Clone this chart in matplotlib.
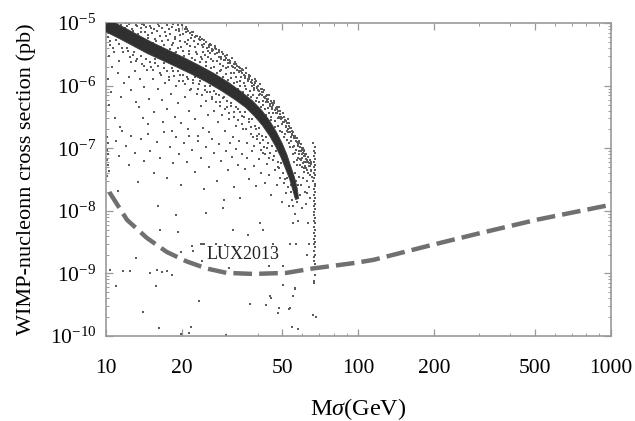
import math
import matplotlib
matplotlib.use("Agg")
import matplotlib.pyplot as plt
from matplotlib.ticker import FixedLocator, NullFormatter, LogLocator, FuncFormatter

plt.rcParams['font.family'] = ['Liberation Serif', 'DejaVu Serif']
plt.rcParams['mathtext.fontset'] = 'custom'
plt.rcParams['mathtext.rm'] = 'Liberation Serif'
plt.rcParams['mathtext.it'] = 'Liberation Serif:italic'

# LUX2013 exclusion limit (GeV, pb)
lux_m = [10.3, 12.1, 14.5, 17.4, 20.9, 25.0, 30.0, 38.3, 51.9, 66.0, 77.0, 98.0, 115.0, 192.0, 303.0, 508.0, 1000.0]
lux_s = [2.0e-8, 7.2e-9, 3.7e-9, 2.2e-9, 1.55e-9, 1.2e-9, 1.02e-9, 0.98e-9, 1.02e-9, 1.2e-9, 1.3e-9, 1.48e-9, 1.65e-9, 2.8e-9, 4.4e-9, 7.2e-9, 1.25e-8]

# dense band of model points: upper and lower edges
band_up_m = [10.25, 11.64, 13.36, 15.32, 17.59, 20.18, 23.14, 26.57, 30.45, 34.3, 37.96, 41.3, 44.4, 47.3, 49.9, 52.1, 53.9, 55.8, 57.2, 57.9]
band_up_s = [1.13e-5, 8.76e-6, 6.5e-6, 4.85e-6, 3.73e-6, 2.86e-6, 2.16e-6, 1.6e-6, 1.14e-6, 8.05e-7, 5.78e-7, 4.07e-7, 2.78e-7, 1.82e-7, 1.19e-7, 7.85e-8, 5.18e-8, 3.43e-8, 2.28e-8, 1.57e-8]
band_lo_m = [9.76, 11.09, 12.7, 14.56, 16.68, 19.1, 21.9, 25.1, 28.8, 32.4, 35.8, 38.7, 41.7, 44.5, 47.05, 49.3, 51.3, 53.3, 54.9, 56.3]
band_lo_s = [7.62e-6, 5.89e-6, 4.41e-6, 3.28e-6, 2.55e-6, 1.98e-6, 1.52e-6, 1.14e-6, 8.2e-7, 6.0e-7, 4.47e-7, 3.27e-7, 2.3e-7, 1.57e-7, 1.06e-7, 7.18e-8, 4.84e-8, 3.26e-8, 2.18e-8, 1.52e-8]

# scattered points above the band
above_m = [10.8, 11.5, 11.9, 12.3, 12.8, 13.1, 13.4, 13.8, 13.9, 14.3, 14.6, 14.9, 15.2, 15.5, 15.8, 16.0, 15.3, 14.4,
           16.3, 16.6, 16.9, 17.1, 17.4, 17.6, 17.9, 18.0, 16.5, 17.2, 18.3, 18.5, 18.8, 19.0, 19.2, 19.5, 19.7, 19.9,
           18.6, 19.4, 20.2, 20.4, 20.7, 20.9, 21.2, 21.4, 21.7, 22.0, 22.2, 22.5, 22.8, 23.0, 21.1, 22.6,
           23.3, 23.6, 23.9, 24.2, 24.5, 24.8, 25.1, 25.4, 25.7, 26.0, 26.3, 26.6, 26.9, 24.0, 25.9,
           27.3, 27.6, 28.0, 28.3, 28.7, 29.0, 29.4, 29.8, 30.1, 30.5, 30.9, 31.2, 31.6, 32.0, 28.5, 30.3,
           32.4, 32.8, 33.2, 33.6, 34.0, 34.4, 34.8, 35.2, 35.6, 36.0, 36.4, 36.8, 33.0, 35.9,
           37.2, 37.6, 38.0, 38.5, 38.9, 39.3, 39.8, 40.2, 40.7, 41.1, 41.6, 42.0, 39.0,
           42.4, 42.9, 43.4, 43.9, 44.4, 44.9, 45.4, 45.9, 46.4, 46.9, 47.4, 47.9, 44.0,
           48.4, 48.9, 49.4, 49.9, 50.4, 50.9, 51.4, 51.9, 52.4, 52.9, 53.4, 53.9, 54.4, 54.9,
           55.4, 55.9, 56.4, 56.9, 57.4, 57.9, 58.4, 58.9, 59.4, 59.9, 60.4, 60.9, 61.4, 61.9,
           12.0, 14.0, 16.5, 18.5,
           10.6, 11.1, 12.1, 12.7, 13.3, 13.7, 14.1, 14.7, 15.1, 15.6, 15.9, 16.2, 16.7, 17.3, 17.8, 18.2, 18.7, 18.9,
           19.3, 19.6, 20.1, 20.5, 20.8, 21.3, 21.6, 21.9, 22.3, 22.7, 23.1, 23.5, 23.8, 24.3, 24.6, 25.0, 25.3, 25.6,
           26.1, 26.4, 26.8, 27.1, 27.5, 27.9, 28.2, 28.6, 29.1, 29.5, 29.9, 30.4, 30.8, 31.3, 31.8, 32.2, 32.6, 33.1,
           33.5, 33.9, 34.3, 34.7, 35.1, 35.5, 36.0, 36.5, 36.9, 37.3, 37.8, 38.3, 38.7, 39.1, 39.6, 40.0, 40.5, 40.9,
           41.4, 41.8, 42.2, 42.7, 43.1, 43.6, 44.1, 44.6, 45.1, 45.6, 46.1, 46.6, 47.1, 47.6, 48.1, 48.6, 49.1, 49.6,
           50.1, 50.6, 51.1, 51.6, 52.1, 52.6, 53.1, 53.6, 54.1, 54.6, 55.1, 55.6, 56.1, 56.6, 57.1, 57.6, 58.1, 58.6,
           59.1, 59.6, 60.1, 60.6, 61.1, 61.6, 62.1, 62.6, 63.1, 63.6, 64.1, 64.6, 65.1, 65.6]
above_s = [9.6e-6, 9.2e-6, 8.3e-6, 9.7e-6, 7.6e-6, 9.4e-6, 6.7e-6, 8.5e-6, 9.8e-6, 7.2e-6, 5.8e-6, 9.1e-6, 6.9e-6, 8.0e-6, 5.1e-6, 9.6e-6, 4.9e-6, 8.7e-6,
           6.2e-6, 8.4e-6, 4.5e-6, 7.3e-6, 9.3e-6, 5.4e-6, 3.9e-6, 6.8e-6, 4.1e-6, 9.9e-6, 8.6e-6, 4.8e-6, 6.1e-6, 3.5e-6, 9.5e-6, 7.4e-6, 5.2e-6, 4.2e-6,
           3.3e-6, 8.0e-6, 6.7e-6, 3.0e-6, 8.8e-6, 4.6e-6, 7.6e-6, 3.6e-6, 5.8e-6, 2.8e-6, 7.1e-6, 4.1e-6, 6.2e-6, 3.2e-6, 5.3e-6, 2.6e-6,
           5.6e-6, 2.4e-6, 4.5e-6, 3.4e-6, 5.3e-6, 2.1e-6, 4.0e-6, 2.9e-6, 4.7e-6, 1.9e-6, 3.6e-6, 2.5e-6, 4.3e-6, 2.7e-6, 3.3e-6,
           3.8e-6, 1.6e-6, 2.9e-6, 2.2e-6, 3.5e-6, 1.4e-6, 2.6e-6, 1.9e-6, 3.1e-6, 1.25e-6, 2.3e-6, 1.6e-6, 2.8e-6, 1.1e-6, 1.8e-6, 2.6e-6,
           2.4e-6, 1.4e-6, 9.0e-7, 2.0e-6, 1.2e-6, 1.7e-6, 8.0e-7, 1.5e-6, 1.0e-6, 1.9e-6, 7.2e-7, 1.3e-6, 1.8e-6, 1.6e-6,
           1.45e-6, 6.5e-7, 1.1e-6, 8.5e-7, 1.3e-6, 5.6e-7, 9.6e-7, 7.0e-7, 1.05e-6, 4.6e-7, 8.0e-7, 5.8e-7, 1.15e-6,
           8.5e-7, 3.4e-7, 6.2e-7, 4.4e-7, 7.0e-7, 2.8e-7, 5.2e-7, 3.6e-7, 5.7e-7, 2.2e-7, 4.2e-7, 3.0e-7, 5.5e-7,
           4.5e-7, 1.9e-7, 3.2e-7, 2.4e-7, 3.6e-7, 1.5e-7, 2.7e-7, 1.9e-7, 2.9e-7, 1.2e-7, 2.1e-7, 1.5e-7, 1.9e-7, 1.05e-7,
           1.6e-7, 8.5e-8, 1.3e-7, 6.5e-8, 1.1e-7, 8.0e-8, 1.2e-7, 5.5e-8, 9.0e-8, 7.0e-8, 1.0e-7, 4.8e-8, 8.0e-8, 6.0e-8,
           9.9e-6, 9.9e-6, 9.9e-6, 9.8e-6,
           9.1e-6, 9.8e-6, 8.9e-6, 8.1e-6, 8.9e-6, 7.1e-6, 9.3e-6, 6.4e-6, 8.4e-6, 5.6e-6, 7.4e-6, 9.1e-6, 5.1e-6, 6.3e-6, 8.1e-6, 4.4e-6, 5.5e-6, 7.8e-6,
           4.0e-6, 6.4e-6, 3.6e-6, 5.0e-6, 7.3e-6, 3.2e-6, 4.3e-6, 6.5e-6, 5.2e-6, 3.5e-6, 4.6e-6, 6.0e-6, 2.9e-6, 4.1e-6, 3.1e-6, 2.4e-6, 3.6e-6, 4.4e-6,
           2.7e-6, 3.9e-6, 2.0e-6, 3.2e-6, 2.5e-6, 3.7e-6, 1.75e-6, 2.7e-6, 2.1e-6, 3.0e-6, 1.55e-6, 2.0e-6, 2.6e-6, 1.35e-6, 2.0e-6, 1.6e-6, 2.2e-6, 1.15e-6,
           1.65e-6, 1.0e-6, 1.4e-6, 1.85e-6, 1.1e-6, 1.35e-6, 9.0e-7, 1.2e-6, 1.5e-6, 8.2e-7, 1.0e-6, 7.0e-7, 9.3e-7, 1.2e-6, 6.4e-7, 8.4e-7, 5.4e-7, 7.4e-7,
           9.0e-7, 5.0e-7, 6.6e-7, 4.2e-7, 5.4e-7, 7.2e-7, 3.6e-7, 4.7e-7, 3.2e-7, 4.2e-7, 5.3e-7, 2.7e-7, 3.6e-7, 4.6e-7, 2.3e-7, 3.0e-7, 3.9e-7, 1.8e-7,
           2.6e-7, 3.2e-7, 1.7e-7, 2.2e-7, 1.35e-7, 1.8e-7, 2.5e-7, 1.05e-7, 1.3e-7, 1.7e-7, 8.0e-8, 1.1e-7, 1.45e-7, 9.5e-8, 1.25e-7, 7.0e-8, 9.0e-8, 1.05e-7,
           6.5e-8, 8.2e-8, 5.8e-8, 7.5e-8, 9.5e-8, 5.2e-8, 6.8e-8, 4.5e-8, 6.0e-8, 5.2e-8, 3.8e-8, 5.6e-8, 4.3e-8, 3.5e-8]

# points along the outer edge of the populated region
edge_m = [20.0, 21.0, 22.0, 23.0, 24.0, 25.0, 26.0, 27.0, 28.0, 29.0, 30.0, 31.0, 32.0, 33.0, 34.0, 35.0, 36.0, 37.0, 38.0,
          39.0, 40.0, 41.0, 42.0, 43.0, 44.0, 45.0, 46.0, 47.0, 48.0, 49.0, 50.0, 51.0, 52.0, 53.0, 54.0, 55.0, 56.0,
          57.0, 58.0, 59.0, 60.0, 61.0, 62.0, 63.0, 64.0, 65.0,
          20.5, 21.5, 22.5, 23.5, 24.5, 25.5, 26.5, 27.5, 28.5, 29.5, 30.5, 31.5, 32.5, 33.5, 34.5, 35.5, 36.5, 37.5,
          38.5, 39.5, 40.5, 41.5, 42.5, 43.5, 44.5, 45.5, 46.5, 47.5, 48.5, 49.5, 50.5, 51.5, 52.5, 53.5, 54.5, 55.5,
          56.5, 57.5, 58.5, 59.5, 60.5, 61.5, 62.5, 63.5, 64.5]
edge_s = [9.4e-6, 8.2e-6, 7.2e-6, 6.2e-6, 5.6e-6, 5.0e-6, 4.5e-6, 4.0e-6, 3.5e-6, 3.2e-6, 2.8e-6, 2.5e-6, 2.25e-6, 2.1e-6,
          1.95e-6, 1.8e-6, 1.6e-6, 1.4e-6, 1.25e-6, 1.1e-6, 9.8e-7, 8.8e-7, 7.8e-7, 6.9e-7, 6.2e-7, 5.6e-7, 5.0e-7, 4.4e-7,
          3.9e-7, 3.5e-7, 3.1e-7, 2.8e-7, 2.5e-7, 2.3e-7, 2.1e-7, 1.8e-7, 1.6e-7, 1.45e-7, 1.3e-7, 1.15e-7, 1.0e-7, 9.0e-8,
          8.0e-8, 7.2e-8, 6.6e-8, 6.0e-8,
          8.0e-6, 7.0e-6, 6.0e-6, 5.3e-6, 4.6e-6, 4.1e-6, 3.7e-6, 3.3e-6, 2.9e-6, 2.6e-6, 2.35e-6, 2.1e-6, 1.9e-6, 1.75e-6,
          1.6e-6, 1.45e-6, 1.3e-6, 1.15e-6, 1.02e-6, 9.1e-7, 8.1e-7, 7.2e-7, 6.4e-7, 5.7e-7, 5.1e-7, 4.6e-7, 4.1e-7, 3.6e-7,
          3.2e-7, 2.9e-7, 2.6e-7, 2.3e-7, 2.05e-7, 1.85e-7, 1.65e-7, 1.45e-7, 1.3e-7, 1.17e-7, 1.05e-7, 9.3e-8, 8.3e-8,
          7.4e-8, 6.5e-8, 5.8e-8, 5.2e-8]

# scattered points below the band
below_m = [10.2, 10.4, 10.3, 10.6, 10.2, 10.5, 10.3, 10.8, 11.0, 11.3, 11.6, 11.2, 11.8, 11.5, 10.9, 11.4,
           12.2, 12.5, 12.8, 13.0, 13.3, 13.6, 13.9, 14.2, 14.5, 14.8, 12.6, 13.5, 14.0, 12.3, 13.1, 14.6,
           15.1, 15.4, 15.7, 16.0, 16.3, 16.6, 16.9, 17.2, 17.5, 17.8, 18.1, 18.4, 18.7, 19.0, 19.3, 19.6, 19.9, 15.5, 16.8, 18.2,
           20.2, 20.6, 21.0, 21.4, 21.8, 22.2, 22.6, 23.0, 23.4, 23.8, 24.2, 24.6, 25.0, 25.4, 25.8, 21.2, 23.2, 25.6,
           26.2, 26.7, 27.2, 27.7, 28.2, 28.7, 29.2, 29.7, 30.2, 30.7, 31.2, 31.7, 32.2, 32.7, 33.2, 33.7,
           34.5, 35.0, 35.6, 36.2, 36.8, 37.4, 38.0, 38.6, 39.2, 39.8, 40.5, 41.2, 42.0, 42.8, 43.6, 44.4,
           10.1, 10.15, 10.1, 10.2, 10.1, 10.15, 10.3, 10.1,
           11.0, 11.3, 11.6, 12.0, 12.3, 12.6, 13.0, 13.4, 13.8, 14.2, 14.6, 15.0, 15.5, 15.9, 16.4, 16.9, 17.4, 17.9,
           18.4, 18.9, 19.4, 19.9, 20.4, 20.9, 21.4, 22.0, 22.6, 23.2, 23.8, 24.4, 25.0, 25.6, 26.2, 26.8, 27.4, 28.0,
           28.6, 29.2, 29.8, 30.4, 31.0, 31.6, 32.2, 32.8, 33.4, 34.0,
           34.6, 35.4, 36.2, 37.0, 37.8, 38.6, 39.4, 40.2, 41.0, 41.8, 42.6, 43.4, 44.2, 45.0, 45.8, 46.6, 47.4, 48.2,
           49.0, 49.8, 50.6, 51.4, 52.2, 53.0, 53.8, 54.6,
           55.2, 55.8, 56.4, 57.0, 57.6, 58.2, 58.8, 59.4, 60.0, 60.6, 61.2, 61.8, 62.4, 63.0, 63.6, 64.2, 64.8,
           56.0, 57.2, 58.5, 59.8, 61.0, 62.0, 63.2, 55.5, 56.8, 60.2, 62.8, 57.8, 54.8,
           10.4, 10.7, 11.3, 11.7, 12.1, 12.4, 12.9, 13.2, 13.7, 14.1, 14.4, 14.9, 15.3, 15.6, 16.1, 16.5, 16.9, 17.4,
           17.7, 18.2, 18.6, 19.2, 19.5, 20.1, 20.6, 21.1, 21.6, 22.1, 22.6, 23.1, 23.6, 24.1, 24.6, 25.2, 25.7, 26.2,
           26.8, 27.3, 27.9, 28.4, 29.0, 29.6, 30.2, 30.8, 31.4, 32.0, 32.7, 33.3, 34.0, 34.7, 35.3, 36.0, 36.7, 37.4,
           38.1, 38.8, 39.5, 40.2, 40.9, 41.6, 42.3, 43.0, 43.7, 44.8, 45.5, 46.2, 47.0, 47.8, 48.5, 49.5, 50.3, 51.0,
           52.0, 52.8, 53.5, 54.2]
below_s = [6.0e-6, 4.5e-6, 3.0e-6, 2.0e-6, 1.3e-6, 8.0e-7, 5.0e-7, 3.4e-6, 5.4e-6, 2.5e-6, 4.0e-6, 1.6e-6, 1.1e-6, 6.5e-7, 3.0e-7, 2.2e-7,
           3.6e-6, 2.4e-6, 3.1e-6, 1.7e-6, 2.7e-6, 1.3e-6, 2.2e-6, 9.5e-7, 1.8e-6, 6.2e-7, 8.5e-7, 4.5e-7, 3.0e-7, 1.4e-6, 5.5e-7, 2.4e-7,
           2.0e-6, 1.3e-6, 2.3e-6, 8.8e-7, 1.6e-6, 6.0e-7, 1.9e-6, 1.1e-6, 4.2e-7, 1.4e-6, 7.5e-7, 1.7e-6, 3.2e-7, 1.0e-6, 5.2e-7, 1.5e-6, 2.5e-7, 3.8e-7, 2.6e-7, 1.9e-7,
           1.2e-6, 6.5e-7, 1.4e-6, 4.0e-7, 9.0e-7, 1.25e-6, 2.9e-7, 7.5e-7, 1.05e-6, 4.8e-7, 2.1e-7, 8.5e-7, 5.8e-7, 3.4e-7, 7.8e-7, 2.0e-7, 1.6e-7, 1.8e-7,
           6.2e-7, 4.0e-7, 7.5e-7, 2.6e-7, 5.5e-7, 3.4e-7, 6.5e-7, 1.9e-7, 4.6e-7, 2.9e-7, 5.2e-7, 1.5e-7, 3.8e-7, 2.3e-7, 4.2e-7, 1.3e-7,
           3.3e-7, 2.0e-7, 3.8e-7, 1.2e-7, 2.6e-7, 1.7e-7, 2.9e-7, 1.1e-7, 2.0e-7, 1.4e-7, 1.7e-7, 9.5e-8, 1.35e-7, 8.0e-8, 1.0e-7, 7.0e-8,
           1.5e-7, 1.2e-7, 9.5e-8, 8.0e-8, 6.5e-8, 5.5e-8, 4.3e-8, 3.6e-8,
           1.3e-7, 7.5e-8, 1.9e-7, 1.1e-7, 5.5e-8, 1.6e-7, 8.5e-8, 2.9e-8, 1.4e-7, 6.3e-8, 1.7e-7, 9.0e-8, 4.0e-8, 1.25e-7, 7.0e-8, 1.8e-7, 3.3e-8, 1.05e-7,
           5.8e-8, 1.5e-7, 8.0e-8, 2.6e-8, 1.2e-7, 6.0e-8, 1.6e-7, 9.5e-8, 4.2e-8, 1.3e-7, 7.0e-8, 2.2e-8, 1.05e-7, 5.0e-8, 1.4e-7, 8.5e-8, 3.0e-8, 1.15e-7,
           6.2e-8, 1.5e-8, 9.0e-8, 4.5e-8, 1.2e-7, 7.2e-8, 2.4e-8, 9.8e-8, 5.5e-8, 1.6e-8,
           8.0e-8, 4.6e-8, 7.0e-8, 3.2e-8, 9.0e-8, 5.2e-8, 2.5e-8, 6.8e-8, 4.0e-8, 8.5e-8, 2.8e-8, 5.6e-8, 3.8e-8, 1.8e-8, 6.5e-8, 4.5e-8, 2.6e-8, 5.0e-8,
           3.4e-8, 1.4e-8, 2.8e-8, 1.9e-8, 3.3e-8, 1.2e-8, 2.0e-8, 1.5e-8,
           1.2e-8, 9.0e-9, 2.2e-8, 1.4e-8, 7.0e-9, 3.5e-8, 1.8e-8, 2.6e-8, 1.1e-8, 4.2e-8, 2.0e-8, 1.3e-8, 3.0e-8, 6.5e-9, 2.4e-8, 1.6e-8, 4.5e-8,
           4.0e-8, 5.5e-8, 6.8e-8, 5.0e-8, 6.0e-8, 4.8e-8, 4.0e-8, 6.0e-8, 3.0e-8, 3.4e-8, 1.9e-8, 2.6e-8, 3.6e-8,
           5.2e-6, 4.0e-6, 4.6e-6, 3.4e-6, 4.0e-6, 2.9e-6, 3.5e-6, 2.5e-6, 3.0e-6, 2.1e-6, 2.7e-6, 2.4e-6, 1.8e-6, 2.7e-6, 2.1e-6, 1.5e-6, 2.3e-6, 1.75e-6,
           1.25e-6, 1.95e-6, 1.45e-6, 1.7e-6, 1.2e-6, 1.5e-6, 1.05e-6, 1.3e-6, 8.5e-7, 1.1e-6, 1.4e-6, 9.0e-7, 1.2e-6, 7.0e-7, 1.0e-6, 8.0e-7, 1.0e-6, 6.5e-7,
           8.2e-7, 5.5e-7, 7.2e-7, 4.7e-7, 6.4e-7, 4.2e-7, 5.6e-7, 3.6e-7, 4.8e-7, 3.2e-7, 4.6e-7, 2.8e-7, 3.8e-7, 2.4e-7, 3.2e-7, 2.0e-7, 2.9e-7, 2.2e-7,
           1.5e-7, 2.3e-7, 1.6e-7, 2.1e-7, 1.2e-7, 1.6e-7, 1.05e-7, 1.5e-7, 1.2e-7, 8.5e-8, 1.1e-7, 7.5e-8, 9.0e-8, 6.0e-8, 4.8e-8, 5.8e-8, 4.0e-8, 3.2e-8,
           4.5e-8, 2.4e-8, 3.6e-8, 2.6e-8]

# thin vertical strip of points near 67 GeV
strip_m = [66.3, 67.0, 66.7, 67.4, 66.5, 67.2, 66.8, 67.5, 66.4, 67.1, 66.6, 67.3, 66.9, 66.3, 67.0, 67.4,
           66.5, 67.2, 66.7, 67.5, 66.4, 67.1, 66.8, 67.3, 66.6, 66.9, 67.2, 66.4, 67.0, 66.7, 67.4, 66.5,
           67.1, 66.8, 67.3, 66.6, 67.0, 66.9, 67.2, 66.5, 66.8, 67.1, 66.6, 67.0, 66.4, 66.9, 66.1, 67.6]
strip_s = [1.2e-7, 1.05e-7, 9.2e-8, 8.3e-8, 7.5e-8, 6.8e-8, 6.1e-8, 5.5e-8, 5.0e-8, 4.5e-8, 4.1e-8, 3.7e-8, 3.3e-8, 3.0e-8, 2.7e-8, 2.45e-8,
           2.2e-8, 2.0e-8, 1.8e-8, 1.6e-8, 1.45e-8, 1.3e-8, 1.18e-8, 1.06e-8, 9.5e-9, 8.6e-9, 7.7e-9, 7.0e-9, 6.3e-9, 5.6e-9, 5.0e-9, 4.5e-9,
           4.0e-9, 3.6e-9, 3.2e-9, 2.9e-9, 2.6e-9, 2.3e-9, 2.0e-9, 1.8e-9, 1.6e-9, 1.4e-9, 1.2e-9, 9.5e-10, 7.5e-10, 7.0e-10, 2.2e-10, 2.0e-10]

# sparse points at low cross section
low_m = [13.2, 10.4, 11.7, 12.45, 11.0, 14.05, 15.0, 15.9, 16.7, 17.4, 18.2, 15.8, 16.2, 19.8, 22.2, 23.7, 24.4, 27.2,
         29.5, 24.1, 23.3, 19.9, 21.8, 21.3, 30.7, 29.9, 11.2, 16.1, 19.0, 16.4, 19.3, 23.9, 21.9, 25.0, 29.1, 31.9,
         36.6, 40.7, 41.9, 45.9, 55.2, 53.6, 37.2, 43.2, 44.6, 48.1, 53.6, 54.3, 57.6, 56.0, 50.3, 55.8, 45.2, 48.3,
         53.3, 55.1, 50.3, 62.6, 56.6, 63.4, 44.4]
low_s = [1.76e-9, 1.15e-9, 1.1e-9, 1.1e-9, 6.2e-10, 2.45e-10, 1.0e-9, 1.15e-9, 1.05e-9, 1.1e-9, 9.5e-10, 6.3e-10, 1.35e-10, 2.2e-9,
         2.3e-9, 2.95e-9, 2.9e-9, 3.0e-9, 2.8e-9, 1.6e-9, 3.6e-10, 1.07e-10, 1.4e-10, 1.1e-10, 1.2e-9, 1.02e-10, 2.1e-8, 1.2e-8,
         8.5e-9, 4.9e-9, 4.6e-9, 3.0e-9, 2.7e-9, 9.1e-9, 1.1e-8, 4.9e-9, 4.1e-9, 6.3e-9, 4.9e-9, 3.0e-9, 6.3e-9, 3.0e-9,
         3.3e-10, 3.1e-10, 4.3e-10, 2.3e-10, 2.8e-10, 1.4e-10, 1.3e-10, 5.8e-10, 6.6e-10, 5.7e-10, 4.1e-10, 2.8e-10,
         2.7e-10, 4.3e-10, 1.3e-9, 1.95e-9, 2.95e-9, 3.0e-9, 1.3e-9]

fig = plt.figure(figsize=(6.35, 4.21), dpi=100)
ax = fig.add_axes([0.167, 0.202, 0.795, 0.743])

pt = dict(marker='s', s=2.0, color='#5c5c5c', linewidths=0, zorder=2)
ax.scatter(above_m, above_s, **pt)
ax.scatter(edge_m, edge_s, **pt)
ax.scatter(below_m, below_s, **pt)
ax.scatter(strip_m, strip_s, **pt)
ax.scatter(low_m, low_s, **pt)

ax.fill(band_up_m + band_lo_m[::-1], band_up_s + band_lo_s[::-1],
        color='#303030', lw=0.6, ec='#3c3c3c', zorder=3)

ax.plot(lux_m, lux_s, color='#707070', lw=3.2, linestyle=(0, (4.2, 1.6)),
        solid_capstyle='butt', zorder=4)
ax.text(35, 2.0e-9, 'LUX2013', fontsize=13, ha='center', va='center', color='#222222')

ax.set_xscale('log')
ax.set_yscale('log')
ax.set_xlim(10, 1000)
ax.set_ylim(1e-10, 1e-5)

ax.xaxis.set_major_locator(FixedLocator([10, 20, 50, 100, 200, 500, 1000]))
ax.xaxis.set_minor_locator(FixedLocator([30, 40, 60, 70, 80, 90, 300, 400, 600, 700, 800, 900]))
ax.xaxis.set_major_formatter(FuncFormatter(lambda v, p: '%d' % v))
ax.xaxis.set_minor_formatter(NullFormatter())
ax.yaxis.set_major_locator(LogLocator(base=10, numticks=10))
ax.yaxis.set_minor_locator(LogLocator(base=10, subs=range(2, 10), numticks=10))
ax.yaxis.set_major_formatter(FuncFormatter(lambda v, p: r'$\mathregular{10^{-%d}}$' % round(-math.log10(v))))

ax.tick_params(which='both', direction='in', top=True, right=True, color='#999999', labelsize=15.5)
ax.tick_params(axis='x', pad=16.5)
ax.tick_params(axis='y', pad=7)
ax.tick_params(which='major', length=5, width=0.9)
ax.tick_params(which='minor', length=2.5, width=0.7)
for sp in ax.spines.values():
    sp.set_color('#999999')
    sp.set_linewidth(1.2)

ax.set_xlabel(r'M$\sigma$(GeV)', fontsize=17.5, labelpad=13)
ax.set_ylabel('WIMP-nucleonn cross section (pb)', fontsize=16, labelpad=10)

fig.savefig('out.png', dpi=100)
